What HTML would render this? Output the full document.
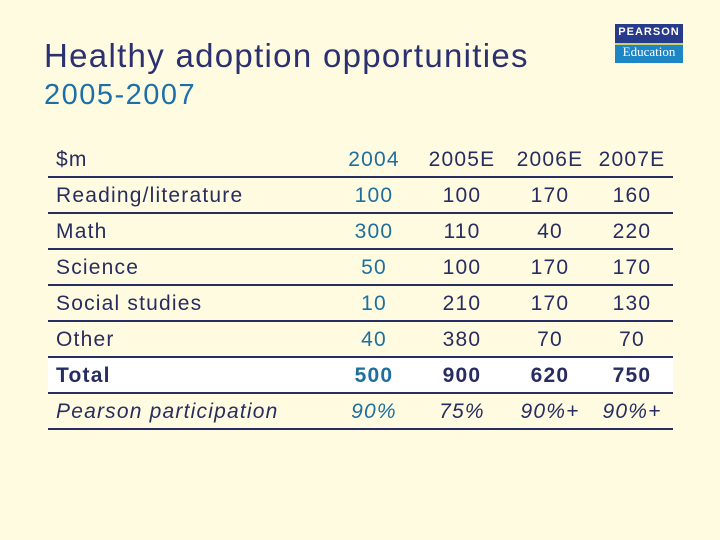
<!DOCTYPE html>
<html><head><meta charset="utf-8"><style>
body{margin:0;width:720px;height:540px;background:#fffbe0;font-family:"Liberation Sans",sans-serif;position:relative;overflow:hidden}
.a{position:absolute;white-space:nowrap}
.ln{position:absolute;left:48px;width:625px;height:2px;background:#272d60}
.c{position:absolute;font-size:21px;text-align:center;width:100px;color:#272d60;line-height:24px;letter-spacing:1.2px;white-space:nowrap}
.l{position:absolute;left:56px;font-size:21px;color:#272d60;line-height:24px;letter-spacing:1.2px;white-space:nowrap}
.t{color:#1e6f9e}
</style></head><body>
<div class="a" style="left:44px;top:37px;font-size:33px;letter-spacing:1.3px;color:#2b3170">Healthy adoption opportunities</div>
<div class="a" style="left:44px;top:79px;font-size:29px;letter-spacing:1.5px;color:#1e6fa8">2005-2007</div>
<div class="a" style="left:615px;top:24px;width:68px;height:39px;background:#283a8a;overflow:hidden">
 <div style="position:absolute;left:0;top:2px;width:68px;text-align:center;color:#fff;font-size:11px;font-weight:bold;letter-spacing:1px">PEARSON</div>
 <div style="position:absolute;left:0;top:19px;width:68px;height:20px;background:#1e86c4;border-top:2px solid #c8d070"></div>
 <div style="position:absolute;left:0;top:20px;width:68px;text-align:center;color:#fff;font-size:13px;font-family:'Liberation Serif',serif">Education</div>
</div>
<div>
<div style="position:absolute;left:48px;top:358px;width:625px;height:34px;background:#fff"></div>
<div class="ln" style="top:176px"></div><div class="ln" style="top:212px"></div><div class="ln" style="top:248px"></div><div class="ln" style="top:284px"></div><div class="ln" style="top:320px"></div><div class="ln" style="top:356px"></div><div class="ln" style="top:392px"></div><div class="ln" style="top:428px"></div>
</div>
<script>
const rows=["$m","Reading/literature","Math","Science","Social studies","Other","Total","Pearson participation"];
const c2004=["2004","100","300","50","10","40","500","90%"];
const c2005=["2005E","100","110","100","210","380","900","75%"];
const c2006=["2006E","170","40","170","170","70","620","90%+"];
const c2007=["2007E","160","220","170","130","70","750","90%+"];
const cols=[c2004,c2005,c2006,c2007];
const cx=[374,462,550,632];
rows.forEach((r,i)=>{
 const y=148+i*36;
 const d=document.createElement('div');
 d.className='l';d.style.top=y+'px';d.textContent=r;
 if(i==6)d.style.fontWeight='bold';
 if(i==7)d.style.fontStyle='italic';
 
 
 document.body.appendChild(d);
 cols.forEach((col,j)=>{
  const e=document.createElement('div');
  e.className='c'+(j==0?' t':'');
  e.style.top=y+'px';e.style.left=(cx[j]-50)+'px';
  e.textContent=col[i];
  if(i==6)e.style.fontWeight='bold';
  if(i==7)e.style.fontStyle='italic';
  
  
  document.body.appendChild(e);
 });
});
</script>
</body></html>
